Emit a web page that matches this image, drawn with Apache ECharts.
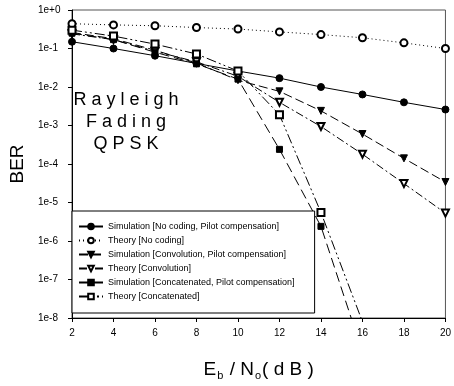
<!DOCTYPE html>
<html>
<head>
<meta charset="utf-8">
<script src="https://cdn.jsdelivr.net/npm/echarts@6/dist/echarts.min.js"></script>
<style>
  html, body { margin: 0; padding: 0; background: #fff; }
  #chart { width: 454px; height: 386px; }
</style>
</head>
<body>
<div id="chart"></div>
<script>
// Eb/No (dB)
const ebno = [2, 4, 6, 8, 10, 12, 14, 16, 18, 20];

// BER values
const simNoCoding    = [0.15, 0.10, 0.065, 0.041, 0.026, 0.017, 0.010, 0.0064, 0.0040, 0.0026];
const theoryNoCoding = [0.44, 0.41, 0.39, 0.35, 0.32, 0.27, 0.23, 0.19, 0.14, 0.10];
const simConv        = [0.26, 0.18, 0.09, 0.042, 0.015, 0.0077, 0.0024, 6.0e-4, 1.4e-4, 3.4e-5];
const theoryConv     = [0.24, 0.17, 0.085, 0.045, 0.019, 0.0040, 9.4e-4, 1.8e-4, 3.1e-5, 5.3e-6];
const simConcat      = [0.25, 0.17, 0.08, 0.040, 0.016, 2.4e-4, 2.4e-6, 1.3e-9];
const theoryConcat   = [0.30, 0.21, 0.13, 0.072, 0.026, 0.0019, 5.5e-6, 8e-9];

const yTickLabels = ["1e+0", "1e-1", "1e-2", "1e-3", "1e-4", "1e-5", "1e-6", "1e-7", "1e-8"];

const FONT = "Liberation Sans, Arial, sans-serif";

function pairs(ys) {
  return ys.map((v, i) => [ebno[i], v]);
}

function mk(name, ys, symbol, dash, opts) {
  opts = opts || {};
  return {
    name: name,
    type: "line",
    data: pairs(ys),
    symbol: symbol,
    symbolSize: opts.size || 7,
    symbolRotate: opts.rotate || 0,
    showAllSymbol: true,
    clip: true,
    lineStyle: { color: "#000", width: 1, type: dash },
    itemStyle: { color: "#000", borderColor: "#000", borderWidth: 1 },
    emphasis: { disabled: true },
    z: opts.z || 2
  };
}

const chart = echarts.init(document.getElementById("chart"), null, { renderer: "canvas" });

chart.setOption({
  animation: false,
  textStyle: { fontFamily: FONT },
  grid: {
    left: 67, right: 6, top: 10, bottom: 63,
    show: true, borderColor: "#555", borderWidth: 1
  },
  xAxis: {
    type: "value",
    min: 2, max: 20, interval: 2,
    axisLine: { lineStyle: { color: "#000" } },
    axisTick: { length: 4, lineStyle: { color: "#000" } },
    axisLabel: { color: "#000", fontSize: 10, margin: 10, fontFamily: FONT },
    splitLine: { show: false },
    name: "{n|E}{s|b}{n| / N}{s|o}{n|( d B )}",
    nameLocation: "middle",
    nameGap: 40,
    nameTextStyle: {
      rich: {
        n: { fontSize: 19, color: "#000", fontFamily: FONT },
        s: { fontSize: 11, color: "#000", fontFamily: FONT, padding: [12, 1, 0, 1] }
      }
    }
  },
  yAxis: {
    type: "log",
    logBase: 10,
    min: 1e-8, max: 1,
    axisLine: { show: true, lineStyle: { color: "#000" } },
    axisTick: { show: true, length: 4, lineStyle: { color: "#000" } },
    minorTick: { show: false },
    axisLabel: {
      color: "#000", fontSize: 10, align: "left", margin: 34, fontFamily: FONT,
      formatter: v => yTickLabels[Math.round(-Math.log10(v))]
    },
    splitLine: { show: false },
    name: "BER",
    nameLocation: "middle",
    nameRotate: 90,
    nameGap: 45,
    nameTextStyle: { fontSize: 19, color: "#000", fontFamily: FONT }
  },
  legend: {
    orient: "vertical",
    left: 72, top: 211,
    padding: [11, 20, 12, 6],
    itemGap: 5,
    itemWidth: 24,
    itemHeight: 7,
    backgroundColor: "#fff",
    borderColor: "#000",
    borderWidth: 1,
    borderRadius: 0,
    textStyle: { fontSize: 9, color: "#000", fontFamily: FONT },
    data: [
      "Simulation [No coding, Pilot compensation]",
      "Theory [No coding]",
      "Simulation [Convolution, Pilot compensation]",
      "Theory [Convolution]",
      "Simulation [Concatenated, Pilot compensation]",
      "Theory [Concatenated]"
    ]
  },
  graphic: [
    {
      type: "text", x: 126, y: 89,
      style: {
        text: "R a y l e i g h\nF a d i n g\nQ P S K",
        font: "18px " + FONT, fill: "#000", align: "center",
        lineHeight: 22
      },
      z: 10
    }
  ],
  series: [
    mk("Simulation [No coding, Pilot compensation]", simNoCoding, "circle", "solid"),
    mk("Theory [No coding]", theoryNoCoding, "emptyCircle", [1, 3]),
    mk("Simulation [Convolution, Pilot compensation]", simConv, "triangle", [9, 4], { rotate: 180 }),
    mk("Theory [Convolution]", theoryConv, "emptyTriangle", [8, 3, 2, 3], { rotate: 180 }),
    mk("Simulation [Concatenated, Pilot compensation]", simConcat, "rect", [10, 5], { size: 6 }),
    mk("Theory [Concatenated]", theoryConcat, "emptyRect", [10, 3, 2, 3, 2, 3], { size: 7 })
  ]
});

window.addEventListener("resize", () => chart.resize());
</script>
</body>
</html>
